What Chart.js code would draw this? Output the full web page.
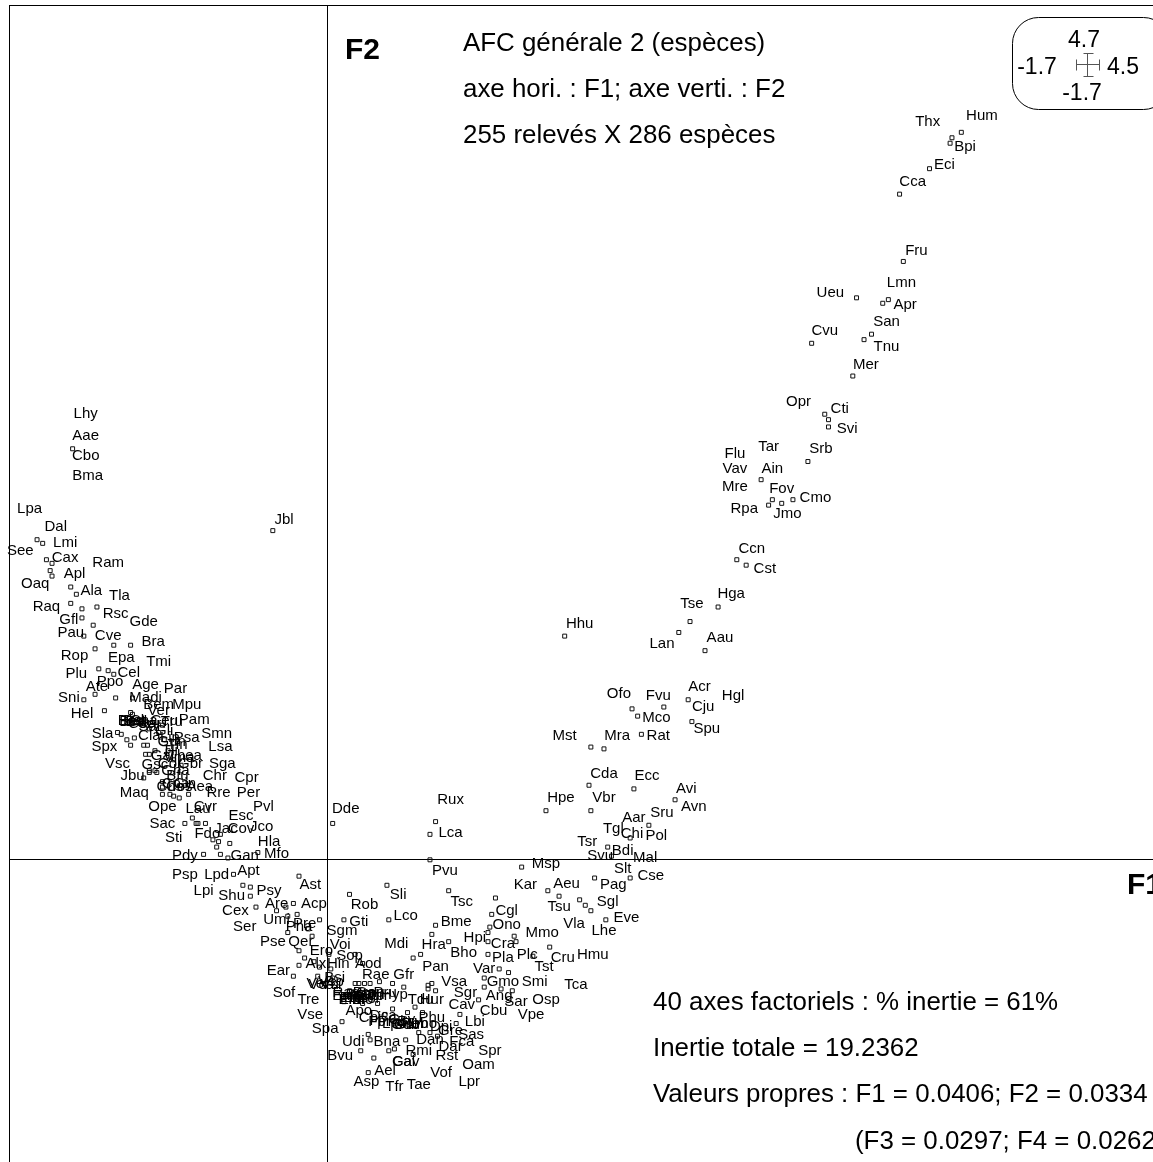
<!DOCTYPE html>
<html>
<head>
<meta charset="utf-8">
<title>AFC générale 2 (espèces)</title>
<script src="https://cdn.jsdelivr.net/npm/chart.js@4/dist/chart.umd.js"></script>
<style>
html, body { margin: 0; padding: 0; width: 1153px; height: 1162px; overflow: hidden; background: #fff; }
canvas { display: block; }
</style>
</head>
<body>
<canvas id="afc" width="1174" height="1174"></canvas>
<script>
// axis limits, as printed in the key box
const xTicks = [-1.7, 0, 4.5];
const yTicks = [-1.7, 0, 4.7];

// species labels, by region of the plane
const armNames = ['Hum','Thx','Bpi','Eci','Cca','Fru','Lmn','Ueu','Apr','San','Cvu','Tnu','Mer','Opr','Cti','Svi','Srb','Tar','Flu','Vav','Ain','Mre','Fov','Cmo','Jmo','Rpa','Ccn','Cst','Hga','Tse','Hhu','Lan','Aau'];
const armF1 = [3.50,3.21,3.41,3.30,3.13,3.15,3.07,2.69,3.09,2.99,2.66,2.99,2.88,2.52,2.74,2.78,2.64,2.36,2.18,2.18,2.38,2.18,2.43,2.61,2.46,2.23,2.27,2.34,2.16,1.95,1.35,1.79,2.10];
const armF2 = [4.09,4.06,3.92,3.82,3.73,3.35,3.17,3.12,3.05,2.96,2.91,2.82,2.72,2.52,2.48,2.37,2.26,2.27,2.23,2.15,2.15,2.05,2.04,1.99,1.90,1.93,1.71,1.60,1.46,1.41,1.30,1.19,1.22];

const midNames = ['Acr','Hgl','Ofo','Fvu','Cju','Mco','Spu','Mst','Mra','Rat','Cda','Ecc','Avi','Avn','Hpe','Vbr','Sru','Aar','Tgl','Chi','Pol','Tsr','Bdi','Svu','Mal','Slt','Cse','Rux','Lca','Dde','Pvu','Msp','Kar','Aeu','Pag','Tsu','Sgl'];
const midF1 = [1.99,2.17,1.56,1.77,2.01,1.76,2.03,1.27,1.55,1.77,1.48,1.71,1.92,1.96,1.25,1.48,1.79,1.64,1.53,1.63,1.76,1.39,1.58,1.46,1.70,1.58,1.73,0.66,0.66,0.10,0.63,1.17,1.06,1.28,1.53,1.24,1.50];
const midF2 = [0.95,0.90,0.91,0.90,0.84,0.78,0.72,0.68,0.68,0.68,0.47,0.46,0.39,0.29,0.34,0.34,0.26,0.23,0.17,0.14,0.13,0.10,0.05,0.02,0.01,-0.05,-0.09,0.33,0.15,0.28,-0.06,-0.02,-0.14,-0.13,-0.14,-0.26,-0.23];

const lowNames = ['Tsc','Cgl','Eve','Vla','Ono','Bme','Lhe','Mmo','Hpi','Cra','Hmu','Cru','Plc','Bho','Hra','Pla','Tst','Pan','Var','Gmo','Vsa','Smi','Tca','Sgr','Ang','Sar','Osp','Cav','Cbu','Vpe','Lbi','Sas','Gre','Spr','Fca','Oam','Rst','Dan','Dar','Vof','Lpr','Rmi','Tae','Tfr','Asp','Ael','Cal','Gav','Bvu','Bna','Udi','Spa','Vse','Tre','Sof','Ear','Apo','Dca','Gdi','Gfr','Rae','Aod','Hin','Alx'];
const lowF1 = [0.72,0.96,1.60,1.32,0.96,0.69,1.48,1.15,0.79,0.94,1.42,1.26,1.07,0.73,0.57,0.94,1.16,0.58,0.84,0.94,0.68,1.11,1.33,0.74,0.92,1.01,1.17,0.72,0.89,1.09,0.79,0.77,0.66,0.87,0.72,0.81,0.64,0.55,0.66,0.61,0.76,0.49,0.49,0.36,0.21,0.31,0.41,0.42,0.07,0.32,0.14,-0.01,-0.09,-0.10,-0.23,-0.26,0.17,0.30,0.42,0.41,0.26,0.22,0.06,-0.06];
const lowF2 = [-0.23,-0.28,-0.32,-0.35,-0.36,-0.34,-0.39,-0.40,-0.43,-0.46,-0.52,-0.54,-0.52,-0.51,-0.47,-0.54,-0.59,-0.59,-0.60,-0.67,-0.67,-0.67,-0.69,-0.73,-0.75,-0.78,-0.77,-0.80,-0.83,-0.85,-0.89,-0.96,-0.94,-1.05,-1.00,-1.13,-1.08,-0.99,-1.03,-1.17,-1.22,-1.05,-1.24,-1.25,-1.22,-1.16,-1.11,-1.11,-1.08,-1.00,-1.00,-0.93,-0.85,-0.77,-0.73,-0.61,-0.83,-0.86,-0.91,-0.63,-0.63,-0.57,-0.57,-0.57];

const axisNames = ['Sli','Rob','Lco','Gti','Mdi','Sgm','Voi','Sop','Ero','Ast','Acp','Are','Psy','Umi','Pre','Pha','Pse','Qer','Ser','Cex','Shu','Lpi','Psp','Lpd','Apt','Pdy','Gan','Mfo','Hla','Jco','Pvl','Esc','Sti','Fdo','Jac','Cov','Sac','Ope','Lau','Cvr','Maq','Jbu','Rre','Per','Cpr','Chr','Sga','Lsa','Smn','Pam','Psa','Jbl'];
const axisF1 = [0.38,0.20,0.42,0.17,0.37,0.08,0.07,0.12,-0.03,-0.09,-0.07,-0.27,-0.31,-0.27,-0.12,-0.15,-0.29,-0.14,-0.44,-0.49,-0.51,-0.66,-0.76,-0.59,-0.42,-0.76,-0.44,-0.27,-0.31,-0.35,-0.34,-0.46,-0.82,-0.64,-0.54,-0.46,-0.88,-0.88,-0.69,-0.65,-1.03,-1.04,-0.58,-0.42,-0.43,-0.60,-0.56,-0.57,-0.59,-0.71,-0.75,-0.23];
const axisF2 = [-0.19,-0.25,-0.31,-0.34,-0.46,-0.39,-0.47,-0.53,-0.50,-0.14,-0.24,-0.24,-0.17,-0.33,-0.35,-0.37,-0.45,-0.45,-0.37,-0.28,-0.20,-0.17,-0.08,-0.08,-0.06,0.02,0.02,0.03,0.10,0.18,0.29,0.24,0.12,0.14,0.17,0.17,0.20,0.29,0.28,0.29,0.37,0.46,0.37,0.37,0.45,0.46,0.53,0.62,0.69,0.77,0.67,1.87];

const leftNames = ['Spx','Sla','Vsc','Hel','Sni','Plu','Ate','Ppo','Cel','Rop','Epa','Tmi','Age','Par','Mpu','Madi','Bem','Pau','Gfl','Cve','Raq','Rsc','Gde','Bra','Ala','Tla','Oaq','Apl','Ram','Cax','See','Lmi','Dal','Lpa','Bma','Cbo','Aae','Lhy'];
const leftF1 = [-1.19,-1.20,-1.12,-1.31,-1.38,-1.34,-1.23,-1.16,-1.06,-1.35,-1.10,-0.90,-0.97,-0.81,-0.75,-0.97,-0.90,-1.37,-1.38,-1.17,-1.50,-1.13,-0.98,-0.93,-1.26,-1.11,-1.56,-1.35,-1.17,-1.40,-1.64,-1.40,-1.45,-1.59,-1.28,-1.29,-1.29,-1.29];
const leftF2 = [0.62,0.69,0.53,0.80,0.89,1.02,0.95,0.98,1.03,1.12,1.11,1.09,0.96,0.94,0.85,0.89,0.85,1.25,1.32,1.23,1.39,1.35,1.31,1.20,1.48,1.45,1.52,1.57,1.63,1.66,1.70,1.74,1.83,1.93,2.11,2.22,2.33,2.45];

// overlapping labels in the two crowded spots, best guess
const crowdANames = ['Bes','Ben','Bet','Bel','Cer','Cha','Car','Tru','Ceu','Ver','Sal','Cla','Gli','Gun','Tin','Lin','Gal','Vma','Thea','Gbr','Gsc','Cor','Tli','Bfu','Chs','Cos','Cpa','Aea','Cin','Gha'];
const crowdAF1 = [-1.05,-1.04,-1.03,-1.02,-1.00,-0.98,-0.95,-0.83,-0.87,-0.90,-0.95,-0.95,-0.87,-0.83,-0.80,-0.84,-0.88,-0.79,-0.76,-0.73,-0.92,-0.84,-0.84,-0.80,-0.84,-0.79,-0.81,-0.68,-0.76,-0.81];
const crowdAF2 = [0.765,0.76,0.765,0.76,0.75,0.765,0.75,0.76,0.765,0.82,0.73,0.68,0.71,0.65,0.63,0.67,0.57,0.56,0.57,0.53,0.52,0.53,0.60,0.46,0.40,0.40,0.42,0.40,0.42,0.49];

const crowdBNames = ['Ras','Emi','Ema','Elu','Bro','Cap','Tpr','Cbr','Pru','Hyp','Tdu','Hur','Bsi','Vsi','Vca','Vsp','Ver','Pmi','Peb','Phu','Dpi','Gdu','Lpo','Fpr','Cpi','Emo','Etr','Bpe','Elo','Dgl','Gsy','Bsy','Lmo'];
const crowdBF1 = [0.10,0.13,0.15,0.12,0.20,0.23,0.27,0.24,0.31,0.36,0.50,0.56,0.04,0.02,-0.03,0.02,-0.05,0.34,0.47,0.56,0.61,0.42,0.36,0.28,0.23,0.11,0.14,0.17,0.19,0.22,0.40,0.44,0.51];
const crowdBF2 = [-0.73,-0.77,-0.76,-0.77,-0.73,-0.73,-0.75,-0.75,-0.73,-0.74,-0.77,-0.77,-0.65,-0.69,-0.69,-0.67,-0.68,-0.89,-0.90,-0.87,-0.92,-0.91,-0.90,-0.89,-0.87,-0.75,-0.76,-0.74,-0.77,-0.75,-0.88,-0.89,-0.90];

// species points (small squares), by region
const armPointF1 = [3.39,3.34,3.33,3.22,3.06,3.08,3.00,2.97,2.83,2.91,2.87,2.59,2.81,2.66,2.68,2.68,2.57,2.32,2.38,2.36,2.43,2.49,2.19,2.24,2.09,1.94,1.88,2.02,1.27];
const armPointF2 = [4.00,3.97,3.94,3.80,3.66,3.29,3.08,3.06,3.09,2.89,2.86,2.84,2.66,2.45,2.42,2.38,2.19,2.09,1.98,1.95,1.96,1.98,1.65,1.62,1.39,1.31,1.25,1.15,1.23];

const midPointF1 = [1.93,1.80,1.63,1.66,1.95,1.68,1.41,1.48,1.40,1.64,1.86,1.17,1.41,1.72,1.62,1.50,1.52,0.58,0.55,0.55,1.04,1.62,1.43,1.18,0.65,0.90,1.24,1.35,1.38,1.41,0.88,1.49,0.87,0.58,0.86,0.56,1.00,0.65,0.86,1.01,1.19,0.86,1.10,0.50,0.92,0.97,0.84,0.84,0.56,0.54,0.54,0.58,0.93,0.99,0.81,0.71,0.69,0.55,0.59,0.03];
const midPointF2 = [0.88,0.84,0.83,0.79,0.76,0.69,0.62,0.61,0.41,0.39,0.33,0.27,0.27,0.19,0.12,0.07,0.02,0.21,0.14,0.00,-0.04,-0.10,-0.10,-0.17,-0.17,-0.21,-0.20,-0.22,-0.25,-0.28,-0.30,-0.33,-0.37,-0.36,-0.40,-0.41,-0.42,-0.45,-0.45,-0.45,-0.48,-0.52,-0.53,-0.52,-0.60,-0.62,-0.65,-0.70,-0.68,-0.69,-0.71,-0.72,-0.71,-0.72,-0.77,-0.85,-0.90,-0.95,-0.97,0.20];

const lowPointF1 = [-0.18,0.08,0.22,0.23,0.18,0.25,0.22,0.42,0.36,0.33,0.46,0.49,0.43,0.51,0.31,0.47,0.35,0.41,0.35,0.28,0.23,0.20,0.17,0.15,0.09,0.10,0.27,0.19,0.12,0.16,0.22];
const lowPointF2 = [-0.64,-0.89,-0.96,-0.99,-1.05,-1.09,-1.17,-0.99,-1.04,-1.05,-1.07,-0.95,-0.84,-0.84,-0.85,-0.81,-0.82,-0.70,-0.68,-0.67,-0.68,-0.68,-0.68,-0.68,-0.78,-0.74,-0.79,-0.79,-0.72,-0.74,-0.75];

const axisPointF1 = [-0.15,-0.18,-0.22,-0.27,-0.38,-0.41,-0.41,0.12,0.32,0.09,0.33,-0.21,-0.16,-0.04,-0.21,-0.10,-0.08,-0.15,-0.15,-0.12,-0.07,-0.04,0.02,0.01,0.15,0.19,0.46,-0.05,-0.01,0.03,-0.88,-0.88,-0.88,-0.84,-0.82,-0.79,-0.74,-0.76,-0.72,-0.70,-0.69,-0.65,-0.61,-0.57,-0.58,-0.52,-0.59,-0.57,-0.53,-0.66,-0.37,-0.50,-0.45,-0.95,-0.91,-0.98,-0.29];
const axisPointF2 = [-0.09,-0.24,-0.26,-0.28,-0.26,-0.15,-0.20,-0.19,-0.14,-0.33,-0.33,-0.31,-0.30,-0.33,-0.40,-0.38,-0.42,-0.50,-0.58,-0.54,-0.56,-0.59,-0.60,-0.52,-0.52,-0.57,-0.54,-0.64,-0.68,-0.65,0.43,0.40,0.36,0.36,0.35,0.34,0.36,0.20,0.23,0.20,0.20,0.20,0.11,0.14,0.10,0.09,0.07,0.03,0.01,0.03,0.04,-0.08,-0.14,0.48,0.48,0.45,1.81];

const leftPointF1 = [-1.36,-1.55,-1.52,-1.50,-1.47,-1.48,-1.47,-1.37,-1.34,-1.37,-1.31,-1.23,-1.31,-1.25,-1.30,-1.14,-1.05,-1.24,-1.22,-1.17,-1.14,-1.24,-1.30,-1.13,-1.19,-1.04,-1.05,-1.04,-1.12,-1.10,-1.07,-1.05,-1.03,-0.98,-0.96,-0.97,-0.95,-0.92,-0.92,-0.95,-0.95,-0.90,-0.87,-0.85,-0.82,-0.78,-0.88,-0.80];
const leftPointF2 = [2.26,1.76,1.74,1.65,1.63,1.59,1.56,1.50,1.46,1.41,1.38,1.39,1.33,1.29,1.23,1.18,1.18,1.16,1.05,1.04,1.02,0.91,0.88,0.89,0.82,0.89,0.81,0.80,0.70,0.69,0.66,0.63,0.67,0.63,0.63,0.58,0.58,0.60,0.49,0.49,0.72,0.70,0.66,0.60,0.55,0.52,0.74,0.65];

const titleLines = ['AFC générale 2 (espèces)', 'axe hori. : F1; axe verti. : F2', '255 relevés X 286 espèces'];
const noteLines = ['40 axes factoriels : % inertie = 61%', 'Inertie totale = 19.2362', 'Valeurs propres : F1 = 0.0406; F2 = 0.0334', '(F3 = 0.0297; F4 = 0.0262'];

function zipPoints(xs, ys) {
    return xs.map((x, i) => ({ x: x, y: ys[i] }));
}

const labelNames = [...armNames, ...midNames, ...lowNames, ...axisNames, ...leftNames, ...crowdANames, ...crowdBNames];
const labelPoints = zipPoints(
    [...armF1, ...midF1, ...lowF1, ...axisF1, ...leftF1, ...crowdAF1, ...crowdBF1],
    [...armF2, ...midF2, ...lowF2, ...axisF2, ...leftF2, ...crowdAF2, ...crowdBF2]
);
const speciesPoints = zipPoints(
    [...armPointF1, ...midPointF1, ...lowPointF1, ...axisPointF1, ...leftPointF1],
    [...armPointF2, ...midPointF2, ...lowPointF2, ...axisPointF2, ...leftPointF2]
);

const FONT = '"Liberation Sans", Arial, sans-serif';

// species codes, centred on their own dataset points
const speciesLabels = {
    id: 'speciesLabels',
    afterDatasetsDraw(chart) {
        const ctx = chart.ctx;
        const meta = chart.getDatasetMeta(1);
        ctx.save();
        ctx.font = '15px ' + FONT;
        ctx.fillStyle = '#000';
        ctx.textAlign = 'center';
        ctx.textBaseline = 'middle';
        meta.data.forEach((el, i) => ctx.fillText(labelNames[i], el.x, el.y));
        ctx.restore();
    }
};

// titles, notes and the scale key
const annotations = {
    id: 'annotations',
    afterDraw(chart) {
        const ctx = chart.ctx;
        ctx.save();
        ctx.fillStyle = '#000';
        ctx.textBaseline = 'middle';
        ctx.textAlign = 'left';

        ctx.font = 'bold 30px ' + FONT;
        ctx.fillText('F2', 345, 51);
        ctx.fillText('F1', 1127, 886);

        ctx.font = '25.9px ' + FONT;
        ctx.fillText(titleLines[0], 463, 44);
        ctx.fillText(titleLines[1], 463, 90);
        ctx.fillText(titleLines[2], 463, 136);
        ctx.fillText(noteLines[0], 653, 1003);
        ctx.fillText(noteLines[1], 653, 1049);
        ctx.fillText(noteLines[2], 653, 1095);
        ctx.fillText(noteLines[3], 855, 1142);

        // key box
        ctx.strokeStyle = '#000';
        ctx.lineWidth = 1;
        ctx.beginPath();
        ctx.roundRect(1012.5, 17.5, 157, 92, 26);
        ctx.stroke();

        ctx.font = '23px ' + FONT;
        ctx.textAlign = 'center';
        ctx.fillText(String(yTicks[2]), 1084, 41);
        ctx.fillText(String(yTicks[0]), 1082, 94);
        ctx.fillText(String(xTicks[0]), 1037, 68);
        ctx.fillText(String(xTicks[2]), 1123, 68);

        // cross of the key
        ctx.strokeStyle = '#555';
        ctx.beginPath();
        ctx.moveTo(1076.5, 64.5); ctx.lineTo(1099.5, 64.5);
        ctx.moveTo(1076.5, 59.5); ctx.lineTo(1076.5, 70.5);
        ctx.moveTo(1099.5, 59.5); ctx.lineTo(1099.5, 70.5);
        ctx.moveTo(1087.5, 53.5); ctx.lineTo(1087.5, 76.5);
        ctx.moveTo(1083.5, 53.5); ctx.lineTo(1093.5, 53.5);
        ctx.moveTo(1083.5, 76.5); ctx.lineTo(1093.5, 76.5);
        ctx.stroke();
        ctx.restore();
    }
};

function axisOptions(limits) {
    return {
        type: 'linear',
        min: limits[0],
        max: limits[2],
        afterBuildTicks(scale) { scale.ticks = limits.map(v => ({ value: v })); },
        ticks: { display: false },
        border: { display: false },
        grid: { color: '#000', lineWidth: 1, drawTicks: false }
    };
}

new Chart(document.getElementById('afc'), {
    type: 'scatter',
    data: {
        datasets: [
            {
                label: 'Espèces',
                data: speciesPoints,
                pointStyle: 'rect',
                pointRadius: 2.8,
                pointBorderWidth: 1,
                pointBorderColor: '#111',
                pointBackgroundColor: 'transparent'
            },
            {
                label: 'Codes',
                data: labelPoints,
                pointRadius: 0
            }
        ]
    },
    options: {
        responsive: false,
        animation: false,
        layout: { padding: { left: 9, top: 5, right: 2, bottom: 2 } },
        scales: { x: axisOptions(xTicks), y: axisOptions(yTicks) },
        plugins: { legend: { display: false }, tooltip: { enabled: false } }
    },
    plugins: [speciesLabels, annotations]
});
</script>
</body>
</html>
